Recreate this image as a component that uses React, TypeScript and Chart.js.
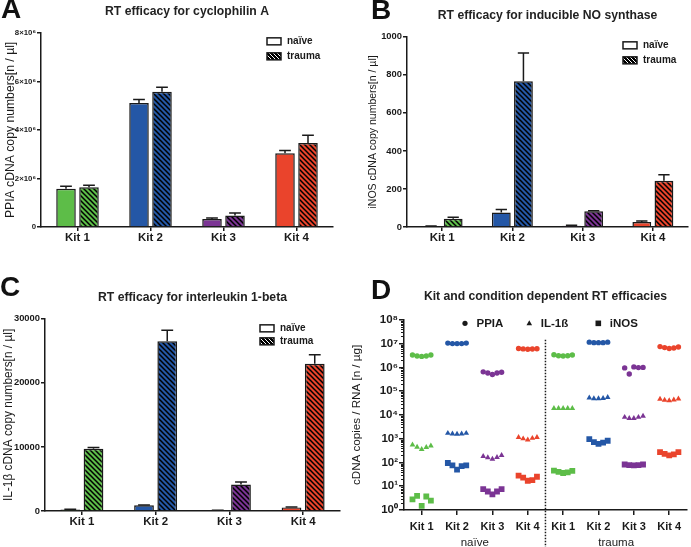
import React, { useEffect, useRef } from 'react';
import { Chart, registerables } from 'chart.js';

Chart.register(...registerables);

const FONT = "'Liberation Sans', Arial, Helvetica, sans-serif";
const INK = '#1a1a1a';
Chart.defaults.font.family = FONT;
Chart.defaults.color = INK;

// ---------- shared categories / colours ----------
const kits = ['Kit 1', 'Kit 2', 'Kit 3', 'Kit 4'];
const kitColors = ['#5dbd48', '#2457a6', '#7b3494', '#ea442c'];
const seriesNames = ['naïve', 'trauma'];

// ---------- Panel A: cyclophilin A (PPIA) ----------
const ppiaNaive = [1.58e6, 5.11e6, 0.33e6, 3.04e6];
const ppiaNaiveSem = [0.1e6, 0.14e6, 0.04e6, 0.11e6];
const ppiaTrauma = [1.64e6, 5.57e6, 0.47e6, 3.46e6];
const ppiaTraumaSem = [0.08e6, 0.19e6, 0.11e6, 0.32e6];
const ppiaTicks = [0, 2e6, 4e6, 6e6, 8e6];
const ppiaTickLabels = ['0', '2×10⁶', '4×10⁶', '6×10⁶', '8×10⁶'];

// ---------- Panel B: inducible NO synthase (iNOS) ----------
const inosNaive = [3, 76, 7, 26];
const inosNaiveSem = [2, 16, 2, 6];
const inosTrauma = [44, 766, 83, 243];
const inosTraumaSem = [7, 149, 3, 32];
const inosTicks = [0, 200, 400, 600, 800, 1000];
const inosTickLabels = ['0', '200', '400', '600', '800', '1000'];

// ---------- Panel C: interleukin 1-beta ----------
const il1bNaive = [220, 890, 100, 560];
const il1bNaiveSem = [40, 50, 20, 60];
const il1bTrauma = [9700, 26500, 4150, 23000];
const il1bTraumaSem = [230, 1700, 370, 1400];
const il1bTicks = [0, 10000, 20000, 30000];
const il1bTickLabels = ['0', '10000', '20000', '30000'];

// ---------- Panel D: per-sample RT efficacies ----------
const dGroups = ['Kit 1', 'Kit 2', 'Kit 3', 'Kit 4', 'Kit 1', 'Kit 2', 'Kit 3', 'Kit 4'];
const dConditions = ['naïve', 'trauma'];
const dGeneNames = ['PPIA', 'IL-1ß', 'iNOS'];
const dPpia = [
  [3.3e6, 3.0e6, 2.9e6, 3.0e6, 3.3e6],
  [1.05e7, 1.0e7, 1.0e7, 1.0e7, 1.05e7],
  [6.5e5, 5.8e5, 5.0e5, 5.8e5, 6.2e5],
  [6.2e6, 6.0e6, 5.8e6, 5.9e6, 6.1e6],
  [3.4e6, 3.1e6, 3.0e6, 3.1e6, 3.3e6],
  [1.15e7, 1.1e7, 1.1e7, 1.1e7, 1.15e7],
  [9.5e5, 5.3e5, 1.05e6, 9.8e5, 1.0e6],
  [7.5e6, 6.8e6, 6.2e6, 6.5e6, 7.2e6],
];
const dIl1b = [
  [550, 440, 360, 430, 500],
  [1700, 1600, 1550, 1600, 1700],
  [180, 160, 140, 165, 200],
  [1150, 1000, 900, 1050, 1150],
  [1.9e4, 1.9e4, 1.9e4, 1.9e4, 1.9e4],
  [5.2e4, 4.9e4, 4.9e4, 5.0e4, 5.5e4],
  [8.0e3, 7.2e3, 7.2e3, 8.0e3, 9.0e3],
  [4.6e4, 4.2e4, 4.0e4, 4.3e4, 4.8e4],
];
const dInos = [
  [2.8, 3.9, 1.5, 3.7, 2.5],
  [95, 75, 50, 70, 75],
  [7.5, 6, 4.5, 6, 7.5],
  [28, 23, 17, 18, 25],
  [45, 40, 36, 38, 44],
  [950, 720, 600, 680, 820],
  [82, 78, 75, 78, 82],
  [270, 230, 200, 220, 270],
];
const dLogTicks = [1, 10, 100, 1e3, 1e4, 1e5, 1e6, 1e7, 1e8];
const dLogTickLabels = ['10⁰', '10¹', '10²', '10³', '10⁴', '10⁵', '10⁶', '10⁷', '10⁸'];

// ---------- helpers ----------
function makeHatch(ctx: CanvasRenderingContext2D, bg: string, fg: string, size: number, lw: number) {
  const c = document.createElement('canvas');
  c.width = size;
  c.height = size;
  const g = c.getContext('2d')!;
  g.fillStyle = bg;
  g.fillRect(0, 0, size, size);
  g.strokeStyle = fg;
  g.lineWidth = lw;
  g.beginPath();
  for (const k of [-size, 0, size]) {
    g.moveTo(k - 1, -1);
    g.lineTo(k + size + 1, size + 1);
  }
  g.stroke();
  return ctx.createPattern(c, 'repeat')!;
}

interface BarSpec {
  title: string;
  yTitle: string;
  yTitleSize: number;
  naive: number[];
  naiveSem: number[];
  trauma: number[];
  traumaSem: number[];
  ticks: number[];
  tickLabels: string[];
  tickSize: number;
  yWidth: number;
  xHeight: number;
  padRight: number;
  titleTop: number;
  titleBottom: number;
  yTitlePad: number;
  legendRight: number;
  legendTop: number;
  legendGap: number;
}

function barConfig(ctx: CanvasRenderingContext2D, s: BarSpec): any {
  const hatches = kitColors.map((c) => makeHatch(ctx, c, '#000', 5, 1.5));
  const legendHatch = makeHatch(ctx, '#000', '#fff', 4, 1);
  const sems = [s.naiveSem, s.traumaSem];
  const overlay = {
    id: 'overlay',
    afterDatasetsDraw(chart: any) {
      const c = chart.ctx as CanvasRenderingContext2D;
      const y = chart.scales.y;
      c.save();
      c.strokeStyle = INK;
      c.lineWidth = 1.5;
      chart.data.datasets.forEach((ds: any, d: number) => {
        chart.getDatasetMeta(d).data.forEach((el: any, i: number) => {
          const v = ds.data[i] as number;
          const top = y.getPixelForValue(v + sems[d][i]);
          const half = el.width * 0.3;
          c.beginPath();
          c.moveTo(el.x, el.y);
          c.lineTo(el.x, top);
          c.moveTo(el.x - half, top);
          c.lineTo(el.x + half, top);
          c.stroke();
        });
      });
      const a = chart.chartArea;
      const bx = a.right - s.legendRight;
      seriesNames.forEach((name, k) => {
        const by = a.top + s.legendTop + k * s.legendGap;
        c.fillStyle = k === 0 ? '#fff' : (legendHatch as any);
        c.fillRect(bx, by, 14, 7);
        c.lineWidth = 1.5;
        c.strokeStyle = INK;
        c.strokeRect(bx, by, 14, 7);
        c.fillStyle = INK;
        c.font = `bold 10px ${FONT}`;
        c.textBaseline = 'middle';
        c.textAlign = 'left';
        c.fillText(name, bx + 20, by + 3.5);
      });
      c.restore();
    },
  };
  return {
    type: 'bar',
    data: {
      labels: kits,
      datasets: [
        {
          label: seriesNames[0],
          data: s.naive,
          backgroundColor: kitColors,
          borderColor: INK,
          borderWidth: 1.5,
          borderSkipped: 'bottom',
          barPercentage: 0.85,
          categoryPercentage: 0.63,
        },
        {
          label: seriesNames[1],
          data: s.trauma,
          backgroundColor: hatches,
          borderColor: INK,
          borderWidth: 1.5,
          borderSkipped: 'bottom',
          barPercentage: 0.85,
          categoryPercentage: 0.63,
        },
      ],
    },
    options: {
      responsive: false,
      animation: false,
      events: [],
      layout: { padding: { left: 0, right: s.padRight, top: 0, bottom: 0 } },
      plugins: {
        legend: { display: false },
        tooltip: { enabled: false },
        title: {
          display: true,
          fullSize: false,
          text: s.title,
          color: '#222',
          font: { family: FONT, size: 12.2, weight: 'bold', lineHeight: 1.2 },
          padding: { top: s.titleTop, bottom: s.titleBottom },
        },
      },
      scales: {
        x: {
          type: 'category',
          offset: true,
          grid: { display: true, drawOnChartArea: false, offset: false, tickLength: 4, color: INK, lineWidth: 1.5 },
          border: { display: true, color: INK, width: 1.5 },
          ticks: { font: { family: FONT, size: 11.5, weight: 'bold' }, color: INK, padding: 0, maxRotation: 0, autoSkip: false },
          afterFit: (sc: any) => {
            sc.height = s.xHeight;
          },
        },
        y: {
          min: 0,
          max: s.ticks[s.ticks.length - 1],
          afterBuildTicks: (sc: any) => {
            sc.ticks = s.ticks.map((v) => ({ value: v }));
          },
          grid: { display: true, drawOnChartArea: false, tickLength: 4, color: INK, lineWidth: 1.5 },
          border: { display: true, color: INK, width: 1.5 },
          ticks: {
            font: { family: FONT, size: s.tickSize, weight: 'bold' },
            color: INK,
            padding: 1,
            callback: (v: number) => {
              const i = s.ticks.indexOf(v);
              return i >= 0 ? s.tickLabels[i] : '';
            },
          },
          title: {
            display: true,
            text: s.yTitle,
            color: INK,
            font: { family: FONT, size: s.yTitleSize, weight: 'normal', lineHeight: 1.2 },
            padding: { top: s.yTitlePad, bottom: 0 },
          },
          afterFit: (sc: any) => {
            sc.width = s.yWidth;
          },
        },
      },
    },
    plugins: [overlay],
  };
}

function dotConfig(ctx: CanvasRenderingContext2D): any {
  const offsets = [-0.26, -0.13, 0, 0.13, 0.26];
  const pts = (vals: number[][]) => vals.flatMap((grp, g) => grp.map((v, j) => ({ x: g + offsets[j], y: v })));
  const cols = (vals: number[][]) => vals.flatMap((grp, g) => grp.map(() => kitColors[g % 4]));
  const styles = ['circle', 'triangle', 'rect'];
  const radii = [2.7, 3.3, 4.1];
  const sets = [dPpia, dIl1b, dInos];
  const overlay = {
    id: 'overlayD',
    afterDraw(chart: any) {
      const c = chart.ctx as CanvasRenderingContext2D;
      const a = chart.chartArea;
      const ys = chart.scales.y;
      const xs = chart.scales.x;
      c.save();
      // minor log ticks
      c.strokeStyle = INK;
      c.lineWidth = 1;
      c.beginPath();
      for (let d = 0; d < 8; d++) {
        for (let m = 2; m <= 9; m++) {
          const py = Math.round(ys.getPixelForValue(m * Math.pow(10, d))) + 0.5;
          c.moveTo(a.left - 3, py);
          c.lineTo(a.left, py);
        }
      }
      c.stroke();
      // divider between conditions
      const dx = xs.getPixelForValue(3.5);
      c.setLineDash([1.5, 1.5]);
      c.lineWidth = 1.5;
      c.beginPath();
      c.moveTo(dx, a.top + 20);
      c.lineTo(dx, chart.height);
      c.stroke();
      c.setLineDash([]);
      // condition labels
      c.fillStyle = INK;
      c.font = `11.5px ${FONT}`;
      c.textAlign = 'center';
      c.textBaseline = 'middle';
      c.fillText(dConditions[0], xs.getPixelForValue(1.5), a.bottom + 33);
      c.fillText(dConditions[1], xs.getPixelForValue(5.5), a.bottom + 33);
      // legend
      const ly = a.top + 3.5;
      const legendX = [61, 125.3, 194.3];
      c.font = `bold 11.5px ${FONT}`;
      c.textAlign = 'left';
      dGeneNames.forEach((name, k) => {
        const mx = a.left + legendX[k];
        c.fillStyle = INK;
        c.beginPath();
        if (k === 0) {
          c.arc(mx, ly, 2.6, 0, Math.PI * 2);
        } else if (k === 1) {
          c.moveTo(mx, ly - 3);
          c.lineTo(mx + 2.8, ly + 2);
          c.lineTo(mx - 2.8, ly + 2);
          c.closePath();
        } else {
          c.rect(mx - 2.8, ly - 2.8, 5.6, 5.6);
        }
        c.fill();
        c.fillText(name, mx + 11.5, ly);
      });
      c.restore();
    },
  };
  return {
    type: 'scatter',
    data: {
      datasets: sets.map((vals, k) => ({
        label: dGeneNames[k],
        data: pts(vals),
        pointStyle: styles[k],
        pointRadius: radii[k],
        pointBackgroundColor: cols(vals),
        pointBorderColor: cols(vals),
        pointBorderWidth: 0,
        showLine: false,
      })),
    },
    options: {
      responsive: false,
      animation: false,
      events: [],
      layout: { padding: { left: 0, right: 1, top: 0, bottom: 0 } },
      plugins: {
        legend: { display: false },
        tooltip: { enabled: false },
        title: {
          display: true,
          fullSize: false,
          text: 'Kit and condition dependent RT efficacies',
          color: '#222',
          font: { family: FONT, size: 12.2, weight: 'bold', lineHeight: 1.2 },
          padding: { top: 19.6, bottom: 15.6 },
        },
      },
      scales: {
        x: {
          type: 'linear',
          min: -0.5,
          max: 7.5,
          afterBuildTicks: (sc: any) => {
            sc.ticks = dGroups.map((_, i) => ({ value: i }));
          },
          grid: { display: true, drawOnChartArea: false, tickLength: 5, color: INK, lineWidth: 1.5 },
          border: { display: true, color: INK, width: 1.5 },
          ticks: {
            font: { family: FONT, size: 11, weight: 'bold' },
            color: INK,
            padding: 5,
            maxRotation: 0,
            autoSkip: false,
            callback: (v: number) => dGroups[Math.round(v)] ?? '',
          },
          afterFit: (sc: any) => {
            sc.height = 37;
          },
        },
        y: {
          type: 'logarithmic',
          min: 1,
          max: 1e8,
          afterBuildTicks: (sc: any) => {
            sc.ticks = dLogTicks.map((v) => ({ value: v }));
          },
          grid: { display: true, drawOnChartArea: false, tickLength: 5, color: INK, lineWidth: 1.5 },
          border: { display: true, color: INK, width: 1.5 },
          ticks: {
            font: { family: FONT, size: 11.5, weight: 'bold' },
            color: INK,
            padding: 1,
            callback: (v: number) => dLogTickLabels[Math.round(Math.log10(v))] ?? '',
          },
          title: {
            display: true,
            text: 'cDNA copies / RNA [n / µg]',
            color: INK,
            font: { family: FONT, size: 11.6, weight: 'normal', lineHeight: 1.2 },
            padding: { top: 5, bottom: 0 },
          },
          afterFit: (sc: any) => {
            sc.width = 59;
          },
        },
      },
    },
    plugins: [overlay],
  };
}

const specA: BarSpec = {
  title: 'RT efficacy for cyclophilin A',
  yTitle: 'PPIA cDNA copy numbers[n / µl]',
  yTitleSize: 12.2,
  naive: ppiaNaive,
  naiveSem: ppiaNaiveSem,
  trauma: ppiaTrauma,
  traumaSem: ppiaTraumaSem,
  ticks: ppiaTicks,
  tickLabels: ppiaTickLabels,
  tickSize: 7.8,
  yWidth: 41,
  xHeight: 43,
  padRight: 12,
  titleTop: 4.6,
  titleBottom: 13.6,
  yTitlePad: 3,
  legendRight: 66,
  legendTop: 5,
  legendGap: 15,
};

const specB: BarSpec = {
  title: 'RT efficacy for inducible NO synthase',
  yTitle: 'iNOS cDNA copy numbers[n / µl]',
  yTitleSize: 10.5,
  naive: inosNaive,
  naiveSem: inosNaiveSem,
  trauma: inosTrauma,
  traumaSem: inosTraumaSem,
  ticks: inosTicks,
  tickLabels: inosTickLabels,
  tickSize: 9.4,
  yWidth: 62,
  xHeight: 43,
  padRight: 3,
  titleTop: 8.6,
  titleBottom: 13.6,
  yTitlePad: 22,
  legendRight: 65,
  legendTop: 5,
  legendGap: 15,
};

const specC: BarSpec = {
  title: 'RT efficacy for interleukin 1-beta',
  yTitle: 'IL-1β cDNA copy numbers[n / µl]',
  yTitleSize: 11.9,
  naive: il1bNaive,
  naiveSem: il1bNaiveSem,
  trauma: il1bTrauma,
  traumaSem: il1bTraumaSem,
  ticks: il1bTicks,
  tickLabels: il1bTickLabels,
  tickSize: 9.4,
  yWidth: 45,
  xHeight: 36,
  padRight: 5,
  titleTop: 20.6,
  titleBottom: 13.6,
  yTitlePad: 1.5,
  legendRight: 80,
  legendTop: 6,
  legendGap: 13,
};

function Panel(props: { left: number; top: number; width: number; height: number; make: (ctx: CanvasRenderingContext2D) => any }) {
  const ref = useRef<HTMLCanvasElement>(null);
  useEffect(() => {
    const canvas = ref.current!;
    const chart = new Chart(canvas, props.make(canvas.getContext('2d')!));
    return () => chart.destroy();
  }, []);
  return (
    <canvas
      ref={ref}
      width={props.width}
      height={props.height}
      style={{ position: 'absolute', left: props.left, top: props.top, width: props.width, height: props.height, display: 'block' }}
    />
  );
}

const letterStyle: React.CSSProperties = {
  position: 'absolute',
  fontFamily: FONT,
  fontWeight: 'bold',
  fontSize: 28,
  lineHeight: '28px',
  color: '#111',
  zIndex: 2,
};

export default function App() {
  return (
    <div style={{ position: 'fixed', left: 0, top: 0, width: 691, height: 547, background: '#fff', overflow: 'hidden' }}>
      <Panel left={0} top={0} width={345} height={270} make={(ctx) => barConfig(ctx, specA)} />
      <Panel left={345} top={0} width={346} height={270} make={(ctx) => barConfig(ctx, specB)} />
      <Panel left={0} top={270} width={345} height={277} make={(ctx) => barConfig(ctx, specC)} />
      <Panel left={345} top={270} width={346} height={277} make={(ctx) => dotConfig(ctx)} />
      <div style={{ ...letterStyle, left: 1, top: -5.4 }}>A</div>
      <div style={{ ...letterStyle, left: 371, top: -3.7 }}>B</div>
      <div style={{ ...letterStyle, left: 0, top: 273 }}>C</div>
      <div style={{ ...letterStyle, left: 371, top: 275.6 }}>D</div>
    </div>
  );
}
